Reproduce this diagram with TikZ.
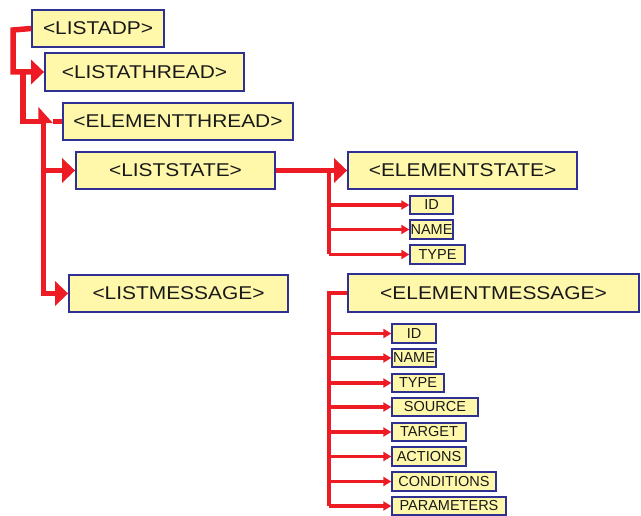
\documentclass[tikz,border=0pt]{standalone}
\usepackage{fontspec}
\setmainfont{Liberation Sans}
\newfontfamily\bigfont{Liberation Sans}[FakeStretch=1.13]
\usetikzlibrary{arrows.meta}
\definecolor{lred}{RGB}{237,28,36}
\definecolor{lyellow}{RGB}{255,248,170}
\definecolor{lblue}{RGB}{46,49,146}
\begin{document}
\begin{tikzpicture}[x=1pt,y=-1pt,
  bigbox/.style={draw=lblue,fill=lyellow,line width=1.8pt,inner sep=0pt,
    font=\bigfont\fontsize{18.5}{20}\selectfont,text=black!90},
  smallbox/.style={draw=lblue,fill=lyellow,line width=1.3pt,inner sep=0pt,
    font=\fontsize{14.5}{16}\selectfont,text=black!90},
  mainline/.style={draw=lred,line width=5.5pt},
  bigarrow/.style={mainline,-{Triangle[length=13pt,width=24pt]}},
  halfarrow/.style={mainline,-{Triangle[length=13pt,width=28pt,left]}},
  vline/.style={draw=lred,line width=4.5pt},
  branch/.style={draw=lred,line width=3.2pt,-{Triangle[length=8pt,width=9pt]}}
]
\useasboundingbox (0,0) rectangle (641,516);
% big boxes
\node[bigbox,minimum width=132pt,minimum height=37pt] (listadp) at (98,28.5) {\raisebox{-3pt}{<LISTADP>}};
\node[bigbox,minimum width=199pt,minimum height=38pt] (listathread) at (144.5,72) {\raisebox{-3pt}{<LISTATHREAD>}};
\node[bigbox,minimum width=230pt,minimum height=37pt] (elementthread) at (178,121.5) {\raisebox{-3pt}{<ELEMENTTHREAD>}};
\node[bigbox,minimum width=199pt,minimum height=37pt] (liststate) at (175.5,170.5) {\raisebox{-3pt}{<LISTSTATE>}};
\node[bigbox,minimum width=229pt,minimum height=37pt] (elementstate) at (462.5,170.5) {\raisebox{-3pt}{<ELEMENTSTATE>}};
\node[bigbox,minimum width=219pt,minimum height=37pt] (listmessage) at (178.5,293.5) {\raisebox{-3pt}{<LISTMESSAGE>}};
\node[bigbox,minimum width=291pt,minimum height=38pt] (elementmessage) at (493.5,293) {\raisebox{-3pt}{<ELEMENTMESSAGE>}};
% state children
\node[smallbox,minimum width=43pt,minimum height=18pt] (sid) at (431.5,205) {\raisebox{-2pt}{ID}};
\node[smallbox,minimum width=43pt,minimum height=19pt] (sname) at (431.5,229.5) {\raisebox{-2pt}{NAME}};
\node[smallbox,minimum width=55pt,minimum height=19pt] (stype) at (437.5,254.5) {\raisebox{-2pt}{TYPE}};
% message children
\node[smallbox,minimum width=44pt,minimum height=19pt] (mid) at (414,333.5) {\raisebox{-2pt}{ID}};
\node[smallbox,minimum width=44pt,minimum height=18pt] (mname) at (414,358) {\raisebox{-2pt}{NAME}};
\node[smallbox,minimum width=52pt,minimum height=18pt] (mtype) at (418,383) {\raisebox{-2pt}{TYPE}};
\node[smallbox,minimum width=86pt,minimum height=18pt] (msource) at (435,407) {\raisebox{-2pt}{SOURCE}};
\node[smallbox,minimum width=74pt,minimum height=18pt] (mtarget) at (429,432) {\raisebox{-2pt}{TARGET}};
\node[smallbox,minimum width=74pt,minimum height=19pt] (mactions) at (429,456.5) {\raisebox{-2pt}{ACTIONS}};
\node[smallbox,minimum width=104pt,minimum height=19pt] (mconditions) at (444,481.5) {\raisebox{-2pt}{CONDITIONS}};
\node[smallbox,minimum width=114pt,minimum height=18pt] (mparameters) at (449,506) {\raisebox{-2pt}{PARAMETERS}};
% top-level connectors
\coordinate (j0) at (13,30);
\coordinate (j1) at (23,72);
\coordinate (j2) at (43.5,121.5);
\coordinate (et) at (53,121.5);
\draw[bigarrow] (listadp.west) -- (j0) |- (listathread.west);
\draw[mainline] (j1) -- (j1 |- elementthread.west) -- (j2);
\draw[halfarrow] (j2) -- (et);
\draw[mainline] (et) -- (elementthread.west);
\draw[bigarrow] (j2) |- (liststate.west);
\draw[bigarrow] (j2) |- (listmessage.west);
% state
\coordinate (j3) at (329,170.5);
\draw[bigarrow] (liststate.east) -- (elementstate.west);
\draw[vline] (j3) -- (j3 |- stype.west);
\foreach \n in {sid,sname,stype}
  \draw[branch] (j3 |- \n.west) -- (\n.west);
% message
\coordinate (j4) at (329,293);
\draw[vline] (elementmessage.west) -- (j4) -- (j4 |- mparameters.west);
\foreach \n in {mid,mname,mtype,msource,mtarget,mactions,mconditions,mparameters}
  \draw[branch] (j4 |- \n.west) -- (\n.west);
\end{tikzpicture}
\end{document}
